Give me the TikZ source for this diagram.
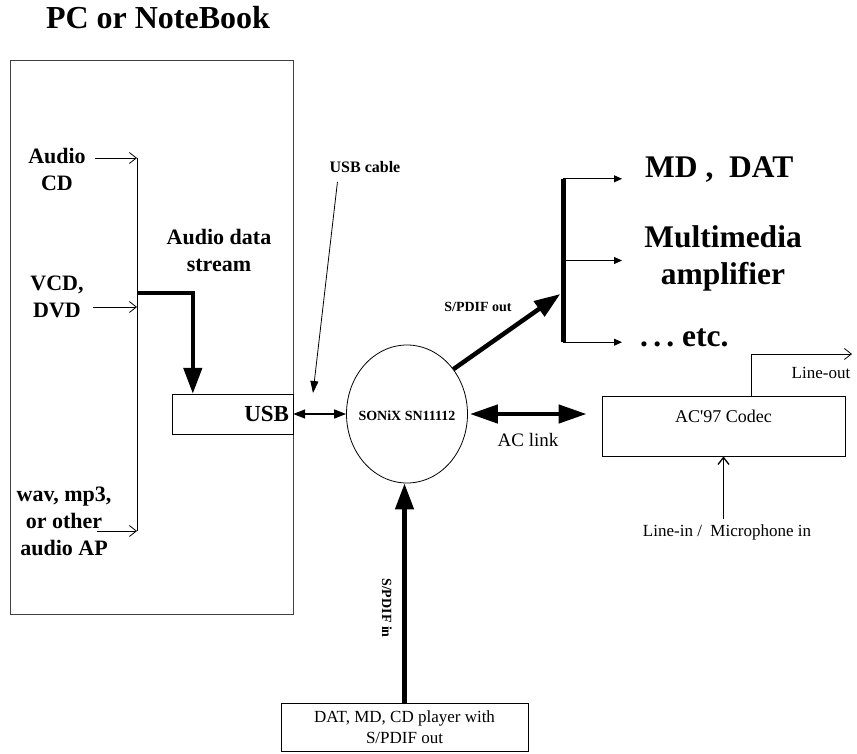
\documentclass[tikz,border=0pt]{standalone}
\usepackage{fontspec}
\setmainfont{Liberation Serif}
\usetikzlibrary{arrows.meta, positioning, shapes.geometric}

\begin{document}
\begin{tikzpicture}[
x=1pt, y=-1pt,
box/.style={draw,
rectangle,
inner sep=0pt},
src/.style={font=\bfseries\fontsize{22}{27}\selectfont,
align=center,
inner sep=0pt},
dest/.style={font=\bfseries\fontsize{31.5}{37}\selectfont,
align=center,
inner sep=0pt},
tag/.style={font=\bfseries\fontsize{14}{16}\selectfont,
inner sep=0pt},
plain/.style={font=\fontsize{18}{21}\selectfont,
align=center,
inner sep=0pt},
feed/.style={-{Straight Barb[length=7pt,width=11pt]}, line width=0.8pt},
tip/.style={-{Triangle[length=8pt,width=7pt]}, line width=0.8pt},
fat/.style={-{Triangle[length=26pt,width=18pt]}, line width=4.5pt},
fatboth/.style={{Triangle[length=28pt,width=18pt]}-{Triangle[length=28pt,width=18pt]}, line width=4.5pt},
both/.style={{Triangle[length=12pt,width=9pt]}-{Triangle[length=12pt,width=9pt]}, line width=1.5pt}
]
\useasboundingbox (0,0) rectangle (857,753);

% PC side
\node[font=\bfseries\fontsize{32}{36}\selectfont] (title) at (158,18) {PC or NoteBook};
\node[box, draw=black!75, line width=1pt, minimum width=283pt, minimum height=554pt] (pc) at (151.5,337) {};

\node[src] (cd) at (57,169) {Audio\\CD};
\node[src] (vcd) at (57,297) {VCD,\\DVD};
\node[src] (wav) at (64,521) {wav, mp3,\\or other\\audio AP};

\coordinate (busTop) at (137,158);
\coordinate (busMid) at (137,307);
\coordinate (busEnd) at (137,531);
\coordinate (tap) at (137,293);

\draw[line width=0.8pt] (busTop) -- (busEnd);
\draw[feed] (busTop -| cd.east) ++(9,0) -- (busTop);
\draw[feed] (busMid -| vcd.east) ++(9,0) -- (busMid);
\draw[feed] (97,531) coordinate (wavOut) -- (busEnd);

\node[box, minimum width=121pt, minimum height=40pt, inner sep=4pt, text width=113pt, align=right,
  font=\bfseries\fontsize{23}{26}\selectfont] (usb) at (232.5,414) {USB};
\node[src] (stream) at (219,250) {Audio data\\stream};
\draw[fat] (tap) -| ([xshift=21pt]usb.north west);

% SONiX chip
\node[draw, ellipse, line width=0.8pt, minimum width=121pt, minimum height=138pt, inner sep=0pt] (sonix) at (407,414) {};
\node[tag] (sonixname) at ([yshift=-2pt]sonix.center) {SONiX SN11112};
\draw[both] (usb.east) -- (sonix.west);

\node[font=\bfseries\fontsize{16}{18}\selectfont, inner sep=0pt] (cable) at (365,167) {USB cable};
\draw[-{Triangle[length=12pt,width=8pt]}, line width=0.8pt] ([xshift=8pt,yshift=-9pt]cable.south west) -- (313,393) coordinate (cableEnd);

% S/PDIF out
\node[fill, minimum width=5pt, minimum height=163pt, inner sep=0pt] (bar) at (563,260.5) {};
\draw[fat] (sonix.44) -- ([yshift=-33.5pt]bar.west);
\node[tag] (spdifout) at (478,307) {S/PDIF out};

\draw[tip] (bar.north) -- ++(59,0) coordinate (mdIn);
\draw[tip] (bar.center) -- ++(59,0) coordinate (ampIn);
\draw[tip] (bar.south) -- ++(59,0) coordinate (etcIn);

\node[dest, anchor=west] (md) at (645,170) {MD ,\ \ DAT};
\node[dest] (amp) at (723,258) {Multimedia\\amplifier};
\node[dest, anchor=west] (etc) at (640,338) {.\,.\,.\ etc.};

% AC'97 codec
\node[box, line width=0.8pt, minimum width=243pt, minimum height=60pt] (codec) at (723.5,426) {};
\node[plain] (codecname) at ([yshift=-21pt]codec.north) {AC\textquotesingle 97 Codec};
\draw[fatboth, shorten <=2pt, shorten >=15pt] (sonix.east) -- (sonix.east -| codec.west);
\node[plain, font=\fontsize{19}{21}\selectfont] (aclink) at (528,440) {AC link};

\draw[feed] ([xshift=28pt]codec.north) |- (852,354) coordinate (loEnd);
\node[plain, font=\fontsize{17}{20}\selectfont] (lineout) at (821,373) {Line-out};

\node[plain, font=\fontsize{17}{20}\selectfont] (linein) at (727,532) {Line-in /\ \ Microphone in};
\draw[feed, line width=1.3pt] (codec.south |- linein.north) ++(0,-5) -- (codec.south);

% S/PDIF in
\node[box, line width=0.8pt, minimum width=247pt, minimum height=48pt, font=\fontsize{17}{21}\selectfont,
  align=center] (player) at (404.5,727) {DAT, MD, CD player with\\S/PDIF out};
\draw[fat] (player.north) -- (player.north |- sonix.south);
\node[tag, rotate=-90] (spdifin) at (387,608) {S/PDIF in};

\end{tikzpicture}
\end{document}
